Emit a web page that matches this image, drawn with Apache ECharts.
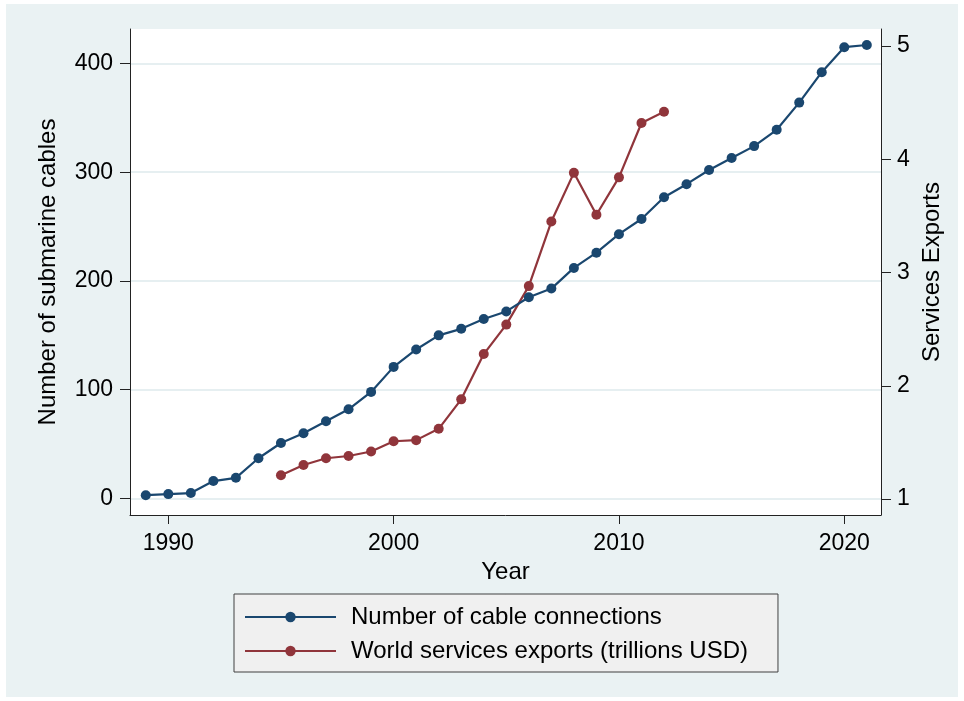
<!DOCTYPE html>
<html>
<head>
<meta charset="utf-8">
<script src="https://cdn.jsdelivr.net/npm/echarts@6/dist/echarts.min.js"></script>
<style>
  html, body { margin: 0; padding: 0; background: #ffffff; }
  #frame { position: relative; width: 964px; height: 701px; background: #ffffff; }
  #chart { position: absolute; left: 6px; top: 4px; width: 952px; height: 693px; background: #eaf2f3; }
</style>
</head>
<body>
<div id="frame"><div id="chart"></div></div>
<script>
// Submarine cable count, 1989-2021
const cableYears = [1989, 1990, 1991, 1992, 1993, 1994, 1995, 1996, 1997, 1998, 1999,
  2000, 2001, 2002, 2003, 2004, 2005, 2006, 2007, 2008, 2009, 2010,
  2011, 2012, 2013, 2014, 2015, 2016, 2017, 2018, 2019, 2020, 2021];
const cableCounts = [3, 4, 5, 16, 19, 37, 51, 60, 71, 82, 98,
  121, 137, 150, 156, 165, 172, 185, 193, 212, 226, 243,
  257, 277, 289, 302, 313, 324, 339, 364, 392, 415, 417];

// World services exports (trillions USD), 1995-2012
const exportYears = [1995, 1996, 1997, 1998, 1999, 2000, 2001, 2002, 2003,
  2004, 2005, 2006, 2007, 2008, 2009, 2010, 2011, 2012];
const exportValues = [1.21, 1.30, 1.36, 1.38, 1.42, 1.51, 1.52, 1.62, 1.88,
  2.28, 2.54, 2.88, 3.45, 3.88, 3.51, 3.84, 4.32, 4.42];

// Axis tick labels
const yearTicks = [1990, 2000, 2010, 2020];
const cableTicks = [0, 100, 200, 300, 400];
const exportTicks = [1, 2, 3, 4, 5];

const seriesNames = ['Number of cable connections', 'World services exports (trillions USD)'];

const NAVY = '#1a476f';
const MAROON = '#90353b';
const FONT = '"Liberation Sans", Arial, sans-serif';
const AXIS_COLOR = '#222222';

const chart = echarts.init(document.getElementById('chart'), null, { renderer: 'canvas' });

const tickLabel = { color: '#000', fontFamily: FONT, fontSize: 23 };
const titleText = { color: '#000', fontFamily: FONT, fontSize: 24 };

chart.setOption({
  animation: false,
  backgroundColor: '#eaf2f3',
  grid: {
    left: 124, top: 25, right: 77, bottom: 182,
    show: true, backgroundColor: '#ffffff', borderWidth: 0
  },
  legend: {
    orient: 'vertical',
    left: 228, top: 590,
    itemWidth: 91, itemHeight: 13, itemGap: 10,
    padding: [11, 30, 9, 10],
    backgroundColor: '#f0f0f0',
    borderColor: '#404040', borderWidth: 1,
    textStyle: { color: '#000', fontFamily: FONT, fontSize: 24, lineHeight: 24, padding: [0, 0, 0, 10] },
    data: seriesNames
  },
  xAxis: {
    type: 'value',
    min: 1988.3, max: 2021.63,
    name: 'Year', nameLocation: 'middle', nameGap: 39,
    nameTextStyle: titleText,
    axisLine: { show: true, onZero: false, lineStyle: { color: AXIS_COLOR, width: 1 } },
    axisTick: { show: true, length: 9, customValues: yearTicks, lineStyle: { color: AXIS_COLOR } },
    axisLabel: Object.assign({ margin: 17, customValues: yearTicks, formatter: v => String(v) }, tickLabel),
    splitLine: { show: false }
  },
  yAxis: [
    {
      type: 'value',
      position: 'left',
      min: -15.2, max: 431.7,
      name: 'Number of submarine cables', nameLocation: 'middle', nameGap: 70,
      nameTextStyle: titleText,
      axisLine: { show: true, onZero: false, lineStyle: { color: AXIS_COLOR, width: 1 } },
      axisTick: { show: true, length: 10, customValues: cableTicks, lineStyle: { color: AXIS_COLOR } },
      axisLabel: Object.assign({ margin: 17, customValues: cableTicks, formatter: v => String(v) }, tickLabel),
      splitLine: { show: true, lineStyle: { color: '#e6eff1', width: 2 } }
    },
    {
      type: 'value',
      position: 'right',
      min: 0.859, max: 5.15,
      name: 'Services Exports', nameLocation: 'middle', nameGap: 37, nameRotate: 90,
      nameTextStyle: titleText,
      axisLine: { show: true, onZero: false, lineStyle: { color: AXIS_COLOR, width: 1 } },
      axisTick: { show: true, length: 10, customValues: exportTicks, lineStyle: { color: AXIS_COLOR } },
      axisLabel: Object.assign({ margin: 16, customValues: exportTicks, formatter: v => String(v) }, tickLabel),
      splitLine: { show: false }
    }
  ],
  series: [
    {
      name: seriesNames[0],
      type: 'line',
      yAxisIndex: 0,
      data: cableYears.map((y, i) => [y, cableCounts[i]]),
      symbol: 'circle', symbolSize: 10,
      itemStyle: { color: NAVY },
      lineStyle: { color: NAVY, width: 2.2 },
      z: 3
    },
    {
      name: seriesNames[1],
      type: 'line',
      yAxisIndex: 1,
      data: exportYears.map((y, i) => [y, exportValues[i]]),
      symbol: 'circle', symbolSize: 10,
      itemStyle: { color: MAROON },
      lineStyle: { color: MAROON, width: 2.2 },
      z: 2
    }
  ]
});
</script>
</body>
</html>
